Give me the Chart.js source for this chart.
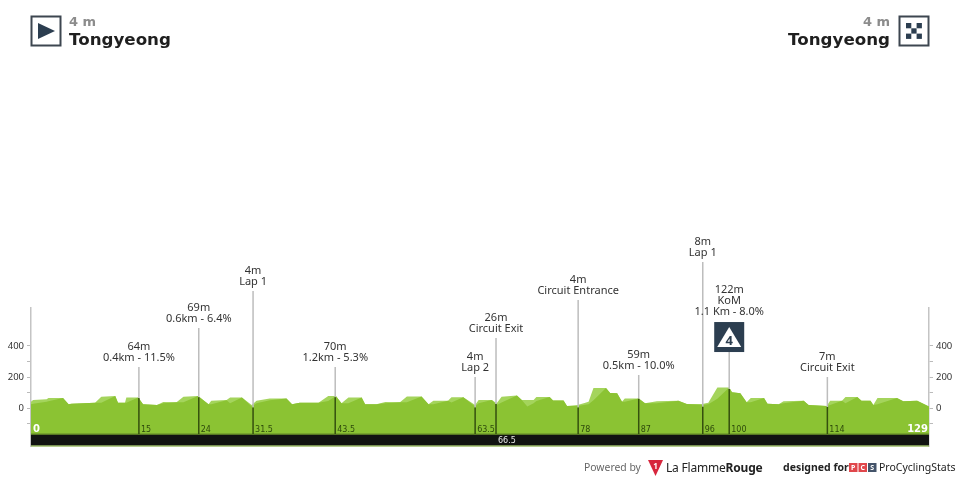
<!DOCTYPE html>
<html>
<head>
<meta charset="utf-8">
<script src="https://cdn.jsdelivr.net/npm/chart.js@4"></script>
<style>
  html, body { margin: 0; padding: 0; background: #fff; }
  #wrap { position: relative; width: 960px; height: 480px; overflow: hidden; font-family: "Noto Sans", sans-serif; }
  #wrap canvas { position: absolute; left: 0; top: 0; }
  .abs { position: absolute; white-space: nowrap; }
  .alt { font-family: "DejaVu Sans"; font-weight: 700; font-size: 13px; color: #8c8c8c; }
  .place { font-family: "DejaVu Sans"; font-weight: 700; font-size: 16.7px; color: #1f1f1f; }
  svg.abs { display: block; }
</style>
</head>
<body>
<div id="wrap">
  <canvas id="profile" width="960" height="480"></canvas>

  <svg class="abs" style="left:30px;top:15px" width="32" height="32">
    <rect x="1.5" y="1.5" width="29" height="29" fill="#fff" stroke="#3d4650" stroke-width="2"/>
    <polygon points="8,8 8,24 25,16" fill="#2c3e50"/>
  </svg>
  <div class="abs alt" style="left:69px;top:14px">4 m</div>
  <div class="abs place" style="left:69px;top:29px">Tongyeong</div>

  <svg class="abs" style="left:898px;top:15px" width="32" height="32">
    <rect x="1.5" y="1.5" width="29" height="29" fill="#fff" stroke="#3d4650" stroke-width="2"/>
    <g fill="#2c3e50">
      <rect x="8" y="8" width="5.3" height="5.3"/><rect x="18.6" y="8" width="5.3" height="5.3"/>
      <rect x="13.3" y="13.3" width="5.3" height="5.3"/>
      <rect x="8" y="18.6" width="5.3" height="5.3"/><rect x="18.6" y="18.6" width="5.3" height="5.3"/>
    </g>
  </svg>
  <div class="abs alt" style="right:70px;top:14px">4 m</div>
  <div class="abs place" style="right:70px;top:29px">Tongyeong</div>

  <div class="abs" style="left:584px;top:460px;font-size:10.4px;color:#666">Powered by</div>
  <svg class="abs" style="left:648px;top:460px" width="16" height="16">
    <polygon points="0,0 15,0 7.5,16" fill="#d7263d"/>
    <text x="7.5" y="9" font-size="8" font-family="Noto Sans" font-weight="700" fill="#fff" text-anchor="middle">1</text>
  </svg>
  <div class="abs" style="left:666px;top:459px;font-size:12px;letter-spacing:-0.2px;color:#222">La Flamme<b>Rouge</b></div>
  <div class="abs" style="left:783px;top:460px;font-size:10.5px;font-weight:700;color:#222">designed for</div>
  <svg class="abs" style="left:849px;top:463px" width="28" height="9">
    <rect x="0" y="0" width="8.5" height="9" fill="#e0474c"/>
    <rect x="9.5" y="0" width="8.5" height="9" fill="#e0474c"/>
    <rect x="19" y="0" width="8.5" height="9" fill="#44546a"/>
    <g font-size="7" font-family="Noto Sans" font-weight="700" fill="#fff" text-anchor="middle">
      <text x="4.2" y="7">P</text><text x="13.7" y="7">C</text><text x="23.2" y="7">S</text>
    </g>
  </svg>
  <div class="abs" style="left:879px;top:460px;font-size:10.5px;color:#222">ProCyclingStats</div>
</div>

<script>
// profile, km and metres
const kmPoints = [
  0, 0.3, 2.25, 2.5, 4.6, 5.4, 5.8, 9.2, 10.1, 12.1,
  12.5, 13.5, 13.7, 15.4, 16.1, 18.1, 19, 20.9, 21.9, 24,
  25.5, 25.9, 28.1, 28.6, 30.3, 31.7, 32.4, 34.3, 36.7, 37.5,
  38.6, 41.3, 42.7, 43.8, 44.6, 45.6, 47.5, 48, 49.6, 50.9,
  53, 54, 56.1, 57.1, 57.8, 59.9, 60.4, 62.1, 63.8, 64.3,
  66.2, 66.9, 67.6, 69.8, 70.5, 71.3, 72.2, 72.6, 74.5, 75,
  76.5, 77, 78.5, 79.4, 80.1, 80.8, 82.6, 83.2, 84.2, 84.9,
  85.3, 87.3, 88.2, 89.9, 93, 94.2, 96.4, 97.3, 98.6, 100.3,
  100.7, 101.9, 102.8, 103.4, 105.3, 105.8, 107.4, 108.1, 111, 111.7,
  114.3, 114.8, 116.5, 117, 118.7, 119.3, 120.6, 121, 121.6, 124.4,
  125.3, 127.3, 129
];
const outerElev = [
  41, 52, 56, 65, 65, 24, 28, 34, 73, 77,
  34, 34, 67, 67, 24, 19, 39, 37, 73, 77,
  24, 47, 52, 67, 67, 19, 47, 62, 62, 24,
  34, 34, 77, 77, 30, 67, 67, 24, 24, 39,
  37, 75, 75, 24, 47, 47, 69, 69, 19, 52,
  52, 30, 73, 80, 52, 52, 52, 71, 71, 49,
  49, 13, 19, 30, 41, 129, 129, 97, 95, 41,
  62, 62, 30, 43, 47, 26, 26, 34, 133, 133,
  101, 95, 37, 65, 65, 28, 24, 43, 47, 19,
  13, 47, 47, 71, 71, 47, 47, 19, 65, 65,
  43, 47, 9
];
const innerElev = [
  24, 28, 41, 43, 65, 24, 28, 34, 34, 77,
  34, 34, 34, 67, 24, 19, 30, 37, 37, 77,
  24, 24, 50, 30, 67, 9, 30, 50, 62, 24,
  34, 34, 45, 77, 30, 30, 67, 24, 24, 30,
  37, 37, 75, 24, 24, 47, 35, 69, 9, 30,
  52, 20, 35, 80, 52, 9, 30, 45, 71, 49,
  49, 13, 13, 20, 24, 50, 129, 97, 95, 41,
  40, 62, 30, 30, 47, 26, 20, 25, 60, 133,
  101, 95, 37, 37, 65, 28, 24, 30, 47, 19,
  13, 20, 47, 30, 71, 47, 47, 19, 25, 65,
  43, 47, 9
];

// waypoints
const wpKm = [15.5, 24.1, 31.9, 43.7, 63.8, 66.8, 78.6, 87.3, 96.5, 100.3, 114.4];
const wpKmLabels = ["15", "24", "31.5", "43.5", "63.5", "66.5", "78", "87", "96", "100", "114"];
const wpElev = [64, 69, 4, 70, 4, 26, 4, 59, 8, 122, 7];
const wpPoleTop = [265, 516, 755, 265, 200, 452, 697, 213, 942, 361, 200];
const wpText = [
  ["64m", "0.4km - 11.5%"],
  ["69m", "0.6km - 6.4%"],
  ["4m", "Lap 1"],
  ["70m", "1.2km - 5.3%"],
  ["4m", "Lap 2"],
  ["26m", "Circuit Exit"],
  ["4m", "Circuit Entrance"],
  ["59m", "0.5km - 10.0%"],
  ["8m", "Lap 1"],
  ["122m", "KoM", "1.1 Km - 8.0%"],
  ["7m", "Circuit Exit"]
];
const komIndex = 9;

const yTicks = [-100, 0, 100, 200, 300, 400];
const yLabelled = [0, 200, 400];
const stripTop = -168;
const stripBottom = -245;
const totalKm = 129;

const pts = (xs, ys) => xs.map((x, i) => ({ x: x, y: ys[i] }));

const datasets = [
  { data: pts(kmPoints, outerElev), borderWidth: 0, backgroundColor: "#a4d45c", fill: "start", order: 30 },
  { data: pts(kmPoints, innerElev), borderWidth: 0, backgroundColor: "#8bc333", fill: "start", order: 29 },
  { data: pts([0, totalKm], [stripTop, stripTop]), borderColor: "#6f9a2b", borderWidth: 1.5, backgroundColor: "#111311", fill: "start", order: 28, clip: false },
  { data: pts([0, totalKm], [stripBottom, stripBottom]), borderColor: "#9dbb6a", borderWidth: 1.5, order: 27, clip: false }
];
wpKm.forEach((km, i) => {
  datasets.push({ data: pts([km, km], [wpPoleTop[i], wpElev[i]]), borderColor: "#bdbdbd", borderWidth: 1.5, clip: false, order: 10 });
  datasets.push({ data: pts([km, km], [wpElev[i], stripTop]), borderColor: "#35500f", borderWidth: 1.5, clip: false, order: 9 });
});

// waypoint texts, km numbers and the KoM badge
const annotations = {
  id: "annotations",
  afterDatasetsDraw(chart) {
    const ctx = chart.ctx, x = chart.scales.x, y = chart.scales.y;
    ctx.save();
    ctx.textAlign = "center";
    ctx.textBaseline = "middle";
    wpKm.forEach((km, i) => {
      const px = x.getPixelForValue(km);
      let base = y.getPixelForValue(wpPoleTop[i]);
      if (i === komIndex) {
        const s = 30;
        ctx.fillStyle = "#2c3e50";
        ctx.fillRect(px - s / 2, base - s, s, s);
        ctx.fillStyle = "#fff";
        ctx.beginPath();
        ctx.moveTo(px, base - s + 5);
        ctx.lineTo(px + 12, base - 5);
        ctx.lineTo(px - 12, base - 5);
        ctx.closePath();
        ctx.fill();
        ctx.fillStyle = "#2c3e50";
        ctx.font = "bold 13px 'Noto Sans'";
        ctx.fillText("4", px, base - 11);
        base -= s + 1;
      }
      ctx.fillStyle = "#333";
      ctx.font = "11px 'Noto Sans'";
      const lines = wpText[i];
      lines.forEach((t, j) => {
        ctx.fillText(t, px, base - 9 - (lines.length - 1 - j) * 11);
      });
    });
    ctx.textAlign = "left";
    ctx.font = "8px 'DejaVu Sans'";
    wpKm.forEach((km, i) => {
      const px = x.getPixelForValue(km) + 2;
      if (wpKmLabels[i] === "66.5") {
        ctx.fillStyle = "#e8e8e8";
        ctx.fillText(wpKmLabels[i], px, y.getPixelForValue(stripTop) + 7);
      } else {
        ctx.fillStyle = "#2e4a0c";
        ctx.fillText(wpKmLabels[i], px, y.getPixelForValue(stripTop) - 4);
      }
    });
    ctx.fillStyle = "#fff";
    ctx.font = "bold 10px 'DejaVu Sans'";
    ctx.fillText("0", x.getPixelForValue(0) + 2, y.getPixelForValue(stripTop) - 5);
    ctx.textAlign = "right";
    ctx.fillText(String(totalKm), x.getPixelForValue(totalKm) - 1, y.getPixelForValue(stripTop) - 5);
    ctx.restore();
  }
};

const yAxis = (position) => ({
  type: "linear",
  position: position,
  min: stripBottom,
  max: 645,
  afterBuildTicks(scale) { scale.ticks = yTicks.map((v) => ({ value: v })); },
  afterFit(scale) { scale.width = 31; },
  border: { display: true, color: "#c4c4c4", width: 1.5 },
  grid: { drawOnChartArea: false, drawTicks: true, tickLength: 4, tickColor: "#bbb" },
  ticks: {
    autoSkip: false,
    padding: 3,
    color: "#333",
    font: { family: "Noto Sans", size: 9.5 },
    callback: (v) => (yLabelled.includes(v) ? String(v) : "")
  }
});

new Chart(document.getElementById("profile"), {
  type: "line",
  data: { datasets: datasets },
  plugins: [annotations],
  options: {
    responsive: false,
    animation: false,
    elements: { point: { radius: 0 }, line: { tension: 0 } },
    layout: { padding: { left: 0, right: 0, top: 308, bottom: 34 } },
    plugins: { legend: { display: false }, tooltip: { enabled: false } },
    scales: {
      x: { type: "linear", min: 0, max: totalKm, display: false },
      y: yAxis("left"),
      yRight: yAxis("right")
    }
  }
});
</script>
</body>
</html>
